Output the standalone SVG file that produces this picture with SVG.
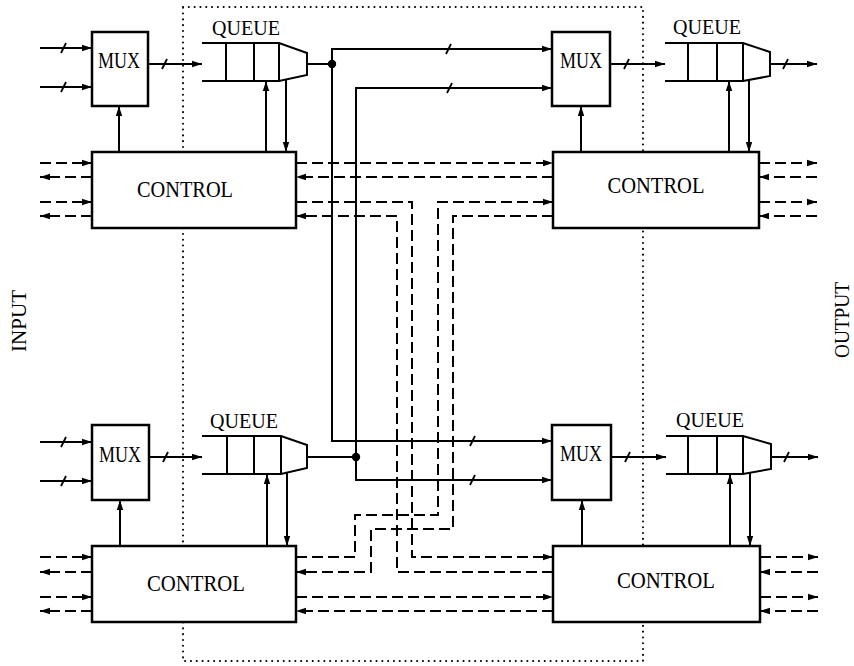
<svg xmlns="http://www.w3.org/2000/svg" width="854" height="666" viewBox="0 0 854 666">
<style>
text{font-family:"Liberation Serif","DejaVu Serif",serif;fill:#000;text-anchor:middle}
.lb{font-size:23px}
.q{font-size:21px}
.side{font-size:20px}
.box{fill:#fff;stroke:#000;stroke-width:2.5}
.ln{fill:none;stroke:#000;stroke-width:2}
.ar{fill:none;stroke:#000;stroke-width:2;marker-end:url(#ah)}
.da{fill:none;stroke:#000;stroke-width:2;stroke-dasharray:11 5;marker-end:url(#ah)}
.sl{fill:none;stroke:#000;stroke-width:1.8}
.dot{fill:none;stroke:#000;stroke-width:2;stroke-dasharray:0.1 5.7;stroke-linecap:round}
</style>
<defs>
<marker id="ah" markerUnits="userSpaceOnUse" markerWidth="10" markerHeight="8" refX="10" refY="4" orient="auto">
<path d="M0,0.8 L10,4 L0,7.2 Z" fill="#000"/>
</marker>
</defs>

<rect class="dot" x="183" y="7" width="460" height="654"/>

<text class="side" transform="translate(26,321) rotate(-90)" textLength="62" lengthAdjust="spacingAndGlyphs">INPUT</text>
<text class="side" transform="translate(849,320) rotate(-90)" textLength="76" lengthAdjust="spacingAndGlyphs">OUTPUT</text>

<g id="connectors">
<!-- top-left -->
<path class="ar" d="M40,48 H92"/><path class="sl" d="M61,53 l5,-10"/>
<path class="ar" d="M40,87 H92"/><path class="sl" d="M61,92 l5,-10"/>
<path class="ar" d="M148,64 H202"/><path class="sl" d="M162,69 l5,-10"/>
<path class="ar" d="M119,152 V106"/>
<path class="ar" d="M266,152 V81"/>
<path class="ar" d="M286,80 V152"/>
<path class="da" d="M40,163 H92"/>
<path class="da" d="M92,177 H40"/>
<path class="da" d="M40,202 H92"/>
<path class="da" d="M92,216 H40"/>
<!-- top-right -->
<path class="ar" d="M610,64 H665"/><path class="sl" d="M624,69 l5,-10"/>
<path class="ar" d="M770,64 H817"/><path class="sl" d="M783,69 l5,-10"/>
<path class="ar" d="M581,152 V106"/>
<path class="ar" d="M729,152 V81"/>
<path class="ar" d="M749,80 V152"/>
<path class="da" d="M759,163 H817"/>
<path class="da" d="M817,177 H759"/>
<path class="da" d="M759,202 H817"/>
<path class="da" d="M817,216 H759"/>
<!-- bottom-left -->
<path class="ar" d="M40,442 H92"/><path class="sl" d="M61,447 l5,-10"/>
<path class="ar" d="M40,481 H92"/><path class="sl" d="M61,486 l5,-10"/>
<path class="ar" d="M149,457 H202"/><path class="sl" d="M163,462 l5,-10"/>
<path class="ar" d="M120,546 V500"/>
<path class="ar" d="M267,546 V474"/>
<path class="ar" d="M287,473 V546"/>
<path class="da" d="M40,557 H92"/>
<path class="da" d="M92,572 H40"/>
<path class="da" d="M40,597 H92"/>
<path class="da" d="M92,611 H40"/>
<!-- bottom-right -->
<path class="ar" d="M611,457 H666"/><path class="sl" d="M625,462 l5,-10"/>
<path class="ar" d="M771,457 H818"/><path class="sl" d="M784,462 l5,-10"/>
<path class="ar" d="M582,546 V500"/>
<path class="ar" d="M730,546 V474"/>
<path class="ar" d="M750,473 V546"/>
<path class="da" d="M760,557 H818"/>
<path class="da" d="M818,572 H760"/>
<path class="da" d="M760,597 H818"/>
<path class="da" d="M818,611 H760"/>
<!-- crossbar data paths -->
<path class="ln" d="M307,64 H332"/>
<circle cx="332" cy="64" r="4.2" fill="#000"/>
<path class="ar" d="M332,64 V49 H552"/><path class="sl" d="M446,54 l5,-10"/>
<path class="ar" d="M332,64 V441 H552"/><path class="sl" d="M470,446 l5,-10"/>
<path class="ln" d="M307,457 H356"/>
<circle cx="356" cy="457" r="4.2" fill="#000"/>
<path class="ar" d="M356,457 V88 H552"/><path class="sl" d="M447,93 l5,-10"/>
<path class="ar" d="M356,457 V480 H552"/><path class="sl" d="M470,485 l5,-10"/>
<!-- control paths -->
<path class="da" d="M296,163 H553"/>
<path class="da" d="M553,177 H296"/>
<path class="da" d="M296,202 H412 V557 H553"/>
<path class="da" d="M553,572 H397 V216 H296"/>
<path class="da" d="M296,557 H355 V515 H438 V202 H553"/>
<path class="da" d="M553,216 H453 V529 H371 V572 H296"/>
<path class="da" d="M296,597 H553"/>
<path class="da" d="M553,611 H296"/>
</g>

<g id="mux-tl"><rect class="box" x="92" y="32" width="56" height="74"/><text class="lb" x="119" y="68" textLength="42" lengthAdjust="spacingAndGlyphs">MUX</text></g>
<g id="queue-tl"><path class="ln" d="M202,43 H279 L307,53 V75 L279,81 H202 M226,43 V81 M254,43 V81 M279,43 V81"/><text class="q" x="246" y="35" textLength="68" lengthAdjust="spacingAndGlyphs">QUEUE</text></g>
<g id="control-tl"><rect class="box" x="92" y="152" width="204" height="76"/><text class="lb" x="185" y="197" textLength="96" lengthAdjust="spacingAndGlyphs">CONTROL</text></g>

<g id="mux-tr"><rect class="box" x="552" y="32" width="58" height="74"/><text class="lb" x="581" y="68" textLength="42" lengthAdjust="spacingAndGlyphs">MUX</text></g>
<g id="queue-tr"><path class="ln" d="M665,43 H743 L770,52 V76 L743,81 H665 M688,43 V81 M717,43 V81 M743,43 V81"/><text class="q" x="707" y="34" textLength="68" lengthAdjust="spacingAndGlyphs">QUEUE</text></g>
<g id="control-tr"><rect class="box" x="553" y="152" width="206" height="76"/><text class="lb" x="656" y="193" textLength="97" lengthAdjust="spacingAndGlyphs">CONTROL</text></g>

<g id="mux-bl"><rect class="box" x="92" y="425" width="57" height="75"/><text class="lb" x="120" y="462" textLength="42" lengthAdjust="spacingAndGlyphs">MUX</text></g>
<g id="queue-bl"><path class="ln" d="M202,436 H281 L307,445 V468 L281,474 H202 M227,436 V474 M254,436 V474 M281,436 V474"/><text class="q" x="244" y="428" textLength="68" lengthAdjust="spacingAndGlyphs">QUEUE</text></g>
<g id="control-bl"><rect class="box" x="92" y="546" width="204" height="76"/><text class="lb" x="196" y="591" textLength="98" lengthAdjust="spacingAndGlyphs">CONTROL</text></g>

<g id="mux-br"><rect class="box" x="552" y="425" width="59" height="75"/><text class="lb" x="581" y="461" textLength="42" lengthAdjust="spacingAndGlyphs">MUX</text></g>
<g id="queue-br"><path class="ln" d="M666,436 H743 L771,444 V469 L743,474 H666 M688,436 V474 M717,436 V474 M743,436 V474"/><text class="q" x="710" y="427" textLength="68" lengthAdjust="spacingAndGlyphs">QUEUE</text></g>
<g id="control-br"><rect class="box" x="553" y="546" width="207" height="76"/><text class="lb" x="666" y="588" textLength="98" lengthAdjust="spacingAndGlyphs">CONTROL</text></g>
</svg>
